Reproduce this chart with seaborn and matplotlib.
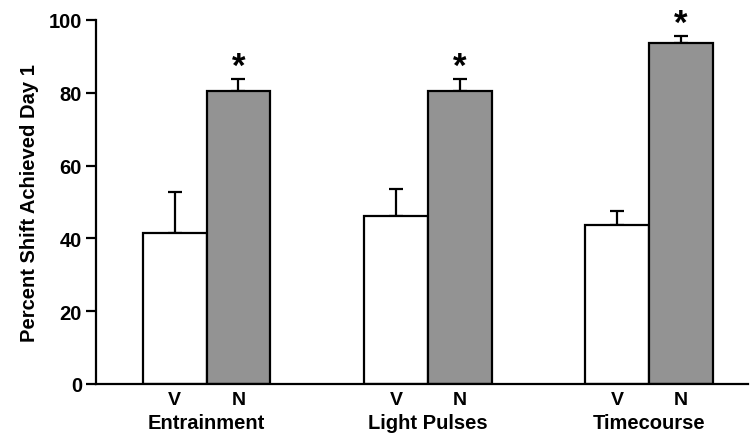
import matplotlib
matplotlib.use("Agg")
import matplotlib.pyplot as plt
import seaborn as sns
import pandas as pd
import numpy as np

groups = ["Entrainment", "Light Pulses", "Timecourse"]
treatments = ["V", "N"]
v_means = [41.5, 46.2, 43.7]
n_means = [80.5, 80.5, 93.7]
v_err = [11.2, 7.4, 3.8]
n_err = [3.3, 3.3, 1.9]
significant = [True, True, True]
ylabel = "Percent Shift Achieved Day 1"
yticks = [0, 20, 40, 60, 80, 100]

sns.set_style("ticks")
plt.rcParams["font.family"] = ["Liberation Sans", "DejaVu Sans"]
plt.rcParams["font.weight"] = "bold"
plt.rcParams["text.color"] = "black"
plt.rcParams["axes.labelcolor"] = "black"
plt.rcParams["xtick.color"] = "black"
plt.rcParams["ytick.color"] = "black"
plt.rcParams["axes.edgecolor"] = "black"

df = pd.DataFrame({
    "group": groups * 2,
    "treatment": ["V"] * 3 + ["N"] * 3,
    "value": v_means + n_means,
})

fig = plt.figure(figsize=(7.5, 4.35), dpi=100)
ax = fig.add_axes([0.128, 0.115, 0.869, 0.837])

width = 0.576
sns.barplot(data=df, x="group", y="value", hue="treatment", order=groups,
            hue_order=treatments, palette={"V": "white", "N": "#939393"},
            width=width, gap=0, dodge=True, errorbar=None,
            edgecolor="black", linewidth=1.6, ax=ax, legend=False, zorder=2)

half = width / 4
xs = np.arange(len(groups))
ax.errorbar(xs - half, v_means, yerr=[np.zeros(3), v_err], fmt="none",
            ecolor="black", elinewidth=1.6, capsize=5, capthick=1.6, zorder=1)
ax.errorbar(xs + half, n_means, yerr=[np.zeros(3), n_err], fmt="none",
            ecolor="black", elinewidth=1.6, capsize=5, capthick=1.6, zorder=1)

for i, sig in enumerate(significant):
    if sig:
        ax.text(xs[i] + half, n_means[i] + n_err[i] - 1.0, "*", ha="center",
                va="bottom", fontsize=25, fontweight="bold", clip_on=False)

ax.set_ylim(0, 100)
ax.set_xlim(-0.5, 2.446)
ax.set_yticks(yticks)
ax.set_yticklabels([str(t) for t in yticks], fontsize=14.5, fontweight="bold")
ax.set_ylabel(ylabel, fontsize=14.5, fontweight="bold", labelpad=7)
ax.set_xlabel("")

tick_pos = []
tick_lab = []
for x in xs:
    tick_pos += [x - half, x + half]
    tick_lab += treatments
ax.set_xticks(tick_pos)
ax.set_xticklabels(tick_lab, fontsize=14, fontweight="bold")
ax.set_xticks(xs, minor=True)
ax.set_xticklabels(groups, minor=True, fontsize=14.5, fontweight="bold")
ax.tick_params(axis="x", which="major", length=0, pad=5)
ax.tick_params(axis="x", which="minor", length=0, pad=21)
ax.tick_params(axis="y", length=7, width=1.6, direction="out", pad=3)

for s in ["top", "right"]:
    ax.spines[s].set_visible(False)
for s in ["left", "bottom"]:
    ax.spines[s].set_linewidth(1.6)

fig.savefig("out.png", dpi=100)
